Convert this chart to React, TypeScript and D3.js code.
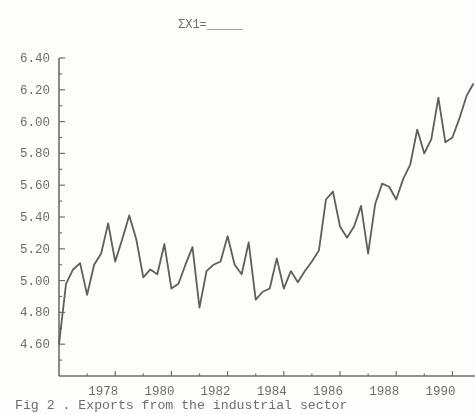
import { useEffect, useRef } from 'react';
import * as d3 from 'd3';

// quarterly, starting 1976 Q1
const START_YEAR = 1976;
const exportsLog = [
  4.60, 4.98, 5.07, 5.11, 4.91, 5.10, 5.17, 5.36, 5.12, 5.26,
  5.41, 5.26, 5.02, 5.07, 5.04, 5.23, 4.95, 4.98, 5.10, 5.21,
  4.83, 5.06, 5.10, 5.12, 5.28, 5.10, 5.04, 5.24, 4.88, 4.93,
  4.95, 5.14, 4.95, 5.06, 4.99, 5.06, 5.12, 5.19, 5.51, 5.56,
  5.34, 5.27, 5.34, 5.47, 5.17, 5.48, 5.61, 5.59, 5.51, 5.64,
  5.73, 5.95, 5.80, 5.89, 6.15, 5.87, 5.90, 6.02, 6.16, 6.24,
];
const yTickLabels = ['4.60', '4.80', '5.00', '5.20', '5.40', '5.60', '5.80', '6.00', '6.20', '6.40'];
const yearLabels = [1978, 1980, 1982, 1984, 1986, 1988, 1990];
const title = 'ΣX1=_____';
const caption = 'Fig 2 . Exports from the industrial sector';

export default function App() {
  const svgRef = useRef<SVGSVGElement>(null);

  useEffect(() => {
    if (!svgRef.current) return;
    const W = 475, H = 414;
    const L = 59, B = 376, T = 58;
    const svg = d3.select(svgRef.current);
    svg.selectAll('*').remove();
    svg.attr('width', W).attr('height', H).attr('viewBox', `0 0 ${W} ${H}`);

    const defs = svg.append('defs');
    defs.append('filter').attr('id', 'scan')
      .append('feGaussianBlur').attr('stdDeviation', 0.55);

    svg.append('rect').attr('width', W).attr('height', H).attr('fill', '#fdfdfc');

    const g = svg.append('g').attr('filter', 'url(#scan)');
    const font = '"Liberation Mono", "DejaVu Sans Mono", monospace';
    const ink = '#6e6e6e';

    const x = d3.scaleLinear().domain([START_YEAR, START_YEAR + (W - L) / 28.1]).range([L, W]);
    const y = d3.scaleLinear().domain([4.4, 6.4]).range([B, T]);

    // axes
    g.append('line').attr('x1', L).attr('x2', L).attr('y1', T).attr('y2', B)
      .attr('stroke', ink).attr('stroke-width', 1.6);
    g.append('line').attr('x1', L).attr('x2', W).attr('y1', B).attr('y2', B)
      .attr('stroke', ink).attr('stroke-width', 1.6);

    // y ticks: minor every 0.1, major every 0.2
    d3.range(45, 64).forEach(k => {
      const v = k / 10;
      const major = k % 2 === 0;
      g.append('line')
        .attr('x1', L).attr('x2', L + (major ? 6 : 3))
        .attr('y1', y(v)).attr('y2', y(v))
        .attr('stroke', ink).attr('stroke-width', 1.2);
    });
    g.append('line').attr('x1', L).attr('x2', L + 6).attr('y1', y(6.4)).attr('y2', y(6.4))
      .attr('stroke', ink).attr('stroke-width', 1.2);
    yTickLabels.forEach(t => {
      g.append('text')
        .attr('x', L - 9).attr('y', y(+t) + 4)
        .attr('text-anchor', 'end').attr('font-family', font).attr('font-size', 12.5)
        .attr('fill', ink).text(t);
    });

    // x ticks
    d3.range(1977, 1991).forEach(yr => {
      const major = yr % 2 === 0;
      g.append('line')
        .attr('x1', x(yr)).attr('x2', x(yr))
        .attr('y1', B).attr('y2', B - (major ? 5 : 2.5))
        .attr('stroke', ink).attr('stroke-width', 1.2);
    });
    yearLabels.forEach(yr => {
      g.append('text')
        .attr('x', x(yr) - 12).attr('y', B + 19)
        .attr('text-anchor', 'middle').attr('font-family', font).attr('font-size', 12.5)
        .attr('fill', ink).text(yr);
    });

    // series
    const line = d3.line<number>()
      .x((_, i) => x(START_YEAR + i / 4))
      .y(d => y(d));
    g.append('path').datum(exportsLog)
      .attr('d', line)
      .attr('fill', 'none').attr('stroke', '#5e5e5e').attr('stroke-width', 1.8)
      .attr('stroke-linejoin', 'round');

    // title & caption
    g.append('text').attr('x', 178).attr('y', 28)
      .attr('font-family', font).attr('font-size', 12).attr('fill', ink).text(title);
    g.append('text').attr('x', 15).attr('y', 409)
      .attr('font-family', font).attr('font-size', 13.2).attr('fill', ink).text(caption);
  }, []);

  return <svg ref={svgRef} style={{ position: 'absolute', left: 0, top: 0 }} />;
}
